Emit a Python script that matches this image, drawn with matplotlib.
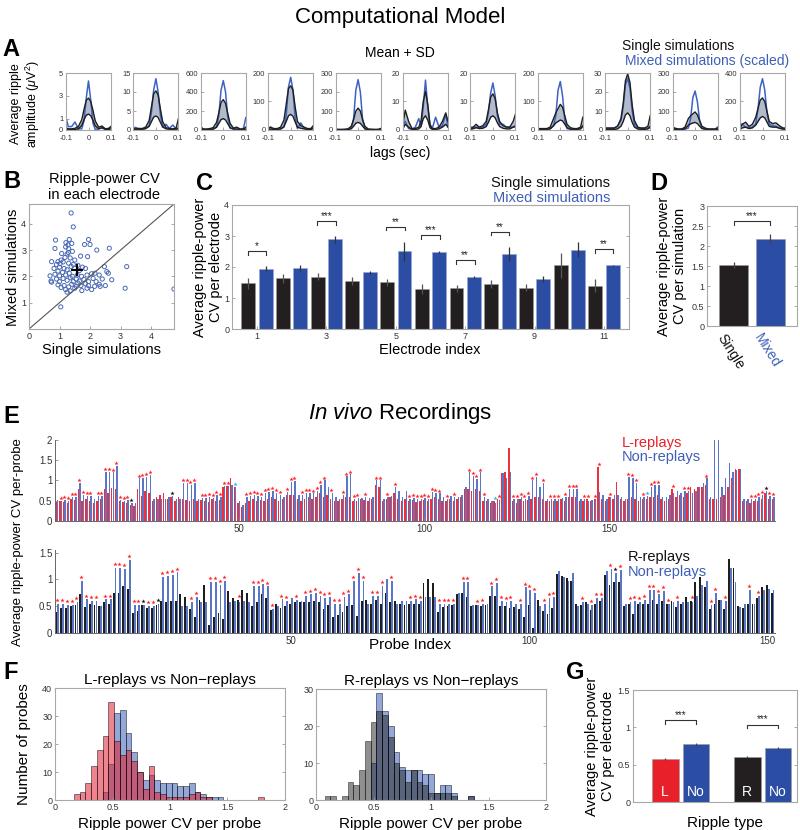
import numpy as np
import matplotlib
matplotlib.use('Agg')
import matplotlib.pyplot as plt

plt.rcParams['font.family'] = ['Liberation Sans', 'DejaVu Sans']
plt.rcParams['mathtext.fontset'] = 'custom'
plt.rcParams['mathtext.it'] = 'Liberation Sans:italic'
plt.rcParams['mathtext.rm'] = 'Liberation Sans'
plt.rcParams['axes.unicode_minus'] = False

# ---------------- data ----------------
# Panel A
lags = [-0.1, -0.09, -0.075, -0.06, -0.045, -0.03, -0.02, -0.01, 0, 0.01, 0.02, 0.03, 0.045, 0.06, 0.075, 0.09, 0.1]
A_blue = [
    [1.1, 0.3, 0.3, 0.7, 0.1, 0.1, 0.8, 2.8, 4.3, 2.6, 0.6, 0.05, 0.1, 0.2, 0.05, 0.1, 0.3],
    [0.5, 0.7, 0.3, 0.2, 0.4, 1.0, 4.5, 10.5, 13.5, 10, 4, 0.8, 1.5, 0.4, 1.3, 0.3, 0.5],
    [40, 10, 5, 5, 10, 30, 150, 420, 520, 400, 130, 20, 10, 5, 5, 20, 130],
    [5, 10, 3, 2, 3, 10, 50, 150, 185, 140, 40, 5, 25, 5, 3, 5, 10],
    [5, 3, 2, 2, 3, 10, 60, 210, 265, 200, 55, 5, 3, 2, 2, 3, 5],
    [1.5, 3.0, 0.5, 0.3, 1.0, 4.0, 1.5, 8, 17.5, 8, 1.5, 0.5, 4.5, 1.0, 1.5, 5.5, 1],
    [1, 1, 1, 0.8, 1, 2, 6, 13, 16.5, 12, 5, 2, 2, 1, 1, 1, 1],
    [5, 3, 3, 3, 5, 15, 50, 140, 170, 120, 35, 5, 3, 3, 3, 5, 10],
    [1, 1, 1, 1, 2, 5, 12, 24, 27, 22, 10, 3, 1, 1, 1, 1, 1],
    [10, 5, 5, 5, 5, 10, 60, 170, 205, 150, 50, 10, 5, 5, 5, 5, 15],
    [45, 40, 20, 15, 20, 40, 150, 300, 360, 280, 120, 40, 30, 25, 15, 10, 15],
]
A_upper = [
    [0.2, 0.1, 0.1, 0.15, 0.3, 0.9, 1.8, 2.6, 2.8, 2.5, 1.7, 0.8, 0.25, 0.35, 0.1, 0.15, 0.3],
    [0.3, 0.3, 0.4, 0.4, 0.8, 2.5, 6, 9.5, 10.3, 9.2, 5.5, 2.2, 0.6, 0.4, 0.3, 0.5, 3.0],
    [20, 10, 10, 15, 25, 80, 180, 290, 320, 280, 170, 70, 20, 30, 10, 10, 30],
    [5, 10, 5, 5, 10, 35, 90, 145, 155, 140, 80, 30, 15, 10, 5, 5, 15],
    [3, 3, 3, 4, 6, 20, 55, 100, 115, 100, 55, 20, 5, 4, 3, 3, 8],
    [2, 7, 3, 0.5, 0.5, 1, 3, 10, 13.5, 9, 2, 0.5, 0.5, 1, 3, 6, 3],
    [0.5, 0.8, 2, 1, 1.5, 3, 7, 11.5, 12.7, 11, 6, 3, 1.5, 1, 1, 3, 5.5],
    [5, 5, 5, 5, 10, 40, 60, 75, 90, 80, 50, 20, 8, 5, 5, 10, 45],
    [1, 1, 1, 1, 2, 6, 14, 26, 29.5, 25, 13, 5, 1.5, 1, 1, 2, 7.5],
    [15, 10, 5, 5, 15, 60, 75, 85, 95, 80, 50, 20, 10, 5, 5, 5, 10],
    [10, 40, 55, 25, 40, 90, 150, 210, 225, 200, 130, 60, 45, 50, 30, 15, 10],
]
A_mean = [
    [0.1, 0.05, 0.05, 0.05, 0.1, 0.4, 0.9, 1.3, 1.4, 1.25, 0.85, 0.35, 0.1, 0.2, 0.05, 0.05, 0.1],
    [0.2, 0.2, 0.2, 0.2, 0.4, 1.0, 2.2, 3.4, 3.7, 3.3, 2.0, 0.8, 0.3, 0.2, 0.2, 0.2, 0.4],
    [10, 5, 5, 5, 10, 30, 70, 110, 120, 105, 65, 25, 10, 10, 5, 5, 10],
    [2, 3, 2, 2, 4, 12, 30, 50, 55, 48, 28, 10, 6, 4, 2, 2, 5],
    [1, 1, 1, 1, 2, 7, 20, 36, 40, 35, 20, 7, 2, 1, 1, 1, 3],
    [0.5, 2, 1, 0.2, 0.2, 0.4, 1.2, 4, 5, 3.5, 0.8, 0.2, 0.2, 0.4, 1, 2, 1],
    [0.3, 0.4, 0.8, 0.5, 0.6, 1.2, 2.7, 4.5, 5, 4.3, 2.5, 1.2, 0.6, 0.4, 0.4, 1, 1.5],
    [2, 2, 2, 2, 4, 15, 25, 30, 35, 32, 20, 8, 3, 2, 2, 4, 15],
    [0.3, 0.3, 0.3, 0.3, 0.6, 2, 4.5, 8, 9, 7.5, 4, 1.5, 0.5, 0.3, 0.3, 0.6, 2],
    [5, 4, 2, 2, 6, 25, 32, 37, 40, 34, 20, 8, 4, 2, 2, 2, 4],
    [5, 15, 20, 10, 15, 35, 60, 85, 95, 85, 55, 25, 20, 20, 12, 6, 5],
]
A_yticks = [[0, 1, 3, 5], [0, 5, 10, 15], [0, 200, 400, 600], [0, 100, 200], [0, 100, 200, 300],
            [0, 10, 20], [0, 10, 20], [0, 100, 200], [0, 10, 20, 30], [0, 100, 200, 300], [0, 200, 400]]

# Panel B
B_single = [1.38, 1.45, 0.87, 1.32, 1.21, 1.28, 1.20, 1.95, 1.82, 2.00, 1.40, 1.30, 0.85, 1.07, 1.29, 1.18, 1.35,
            1.69, 1.92, 2.22, 2.63, 1.25, 1.42, 1.05, 1.50,
            0.74, 0.95, 0.90, 1.02, 1.12, 1.30, 1.45, 1.60, 1.75, 1.00, 1.15, 1.25, 1.38, 0.82, 0.95, 1.10, 1.20,
            1.32, 1.50, 1.65, 1.85, 2.47, 3.20, 2.55, 2.16, 2.05, 1.90, 0.69, 0.85, 1.00, 1.42, 1.58, 1.72, 2.30, 2.60,
            0.74, 0.72, 0.90, 1.00, 1.12, 1.25, 1.35, 1.45, 1.55, 1.65, 1.80, 1.95, 2.10, 2.20, 2.40, 2.71, 2.30,
            2.15, 2.33, 1.95, 1.85, 1.70, 1.55, 1.40, 1.30, 1.15, 1.05, 0.95, 1.20, 1.35, 1.50, 1.73, 1.90, 2.05,
            1.25, 1.60, 3.15, 4.75, 1.04, 2.50]
B_mixed = [4.41, 3.88, 3.38, 3.40, 3.28, 3.20, 3.12, 3.40, 3.21, 3.21, 3.25, 3.05, 3.06, 2.87, 2.91, 2.72, 2.70,
           2.77, 2.75, 3.00, 3.07, 2.85, 2.95, 2.62, 2.62,
           2.56, 2.56, 2.45, 2.48, 2.55, 2.50, 2.45, 2.42, 2.35, 2.35, 2.30, 2.25, 2.38, 2.30, 2.20, 2.15, 2.05,
           2.12, 2.30, 2.22, 2.30, 2.37, 2.37, 2.18, 2.12, 2.10, 2.05, 2.02, 2.08, 2.02, 2.00, 2.05, 2.00, 2.05, 2.12,
           1.78, 1.82, 1.90, 1.80, 1.92, 1.85, 1.95, 1.80, 1.90, 1.82, 1.88, 1.80, 1.92, 1.80, 1.90, 1.87, 1.70,
           1.62, 1.62, 1.65, 1.72, 1.65, 1.62, 1.70, 1.60, 1.65, 1.58, 1.68, 1.50, 1.45, 1.55, 1.46, 1.55, 1.50,
           1.40, 1.75, 1.55, 1.52, 0.84, 1.65]

# Panel C
C_electrodes = [1, 2, 3, 4, 5, 6, 7, 8, 9, 10, 11]
C_single = [1.47, 1.63, 1.69, 1.55, 1.50, 1.29, 1.31, 1.44, 1.33, 2.05, 1.40]
C_single_err = [0.17, 0.15, 0.12, 0.14, 0.10, 0.15, 0.12, 0.13, 0.12, 0.40, 0.20]
C_mixed = [1.94, 1.96, 2.89, 1.83, 2.50, 2.49, 1.67, 2.41, 1.62, 2.56, 2.05]
C_mixed_err = [0.08, 0.09, 0.10, 0.04, 0.30, 0.03, 0.04, 0.23, 0.10, 0.24, 0.03]
C_sig = ['*', '', '***', '', '**', '***', '**', '**', '', '', '**']

# Panel D
D_labels = ['Single', 'Mixed']
D_values = [1.52, 2.18]
D_err = [0.07, 0.12]

# Panel E
L_red = [0.48, 0.50, 0.47, 0.45, 0.55, 0.52, 0.80, 0.50, 0.55, 0.50,
         0.45, 0.50, 0.55, 0.80, 0.70, 0.82, 0.80, 0.50, 0.48, 0.45,
         0.40, 0.38, 0.78, 0.62, 0.75, 0.70, 0.50, 0.60, 0.65, 0.70,
         0.55, 0.60, 0.50, 0.60, 0.55, 0.52, 0.50, 0.55, 0.50, 0.52,
         0.50, 0.48, 0.55, 0.50, 0.52, 0.85, 0.86, 1.05, 0.85, 0.45,
         0.35, 0.45, 0.50, 0.55, 0.50, 0.52, 0.50, 0.55, 0.60, 0.55,
         0.50, 0.55, 0.65, 0.65, 0.65, 0.55, 0.50, 0.55, 0.60, 0.55,
         0.60, 0.70, 0.60, 0.65, 0.55, 0.50, 0.50, 0.55, 0.60, 0.60,
         0.50, 0.50, 0.55, 0.52, 0.50, 0.55, 0.88, 0.85, 0.50, 0.55,
         0.60, 0.70, 0.55, 0.50, 0.55, 0.50, 0.52, 0.48, 0.50, 0.53,
         0.50, 0.55, 0.60, 0.55, 0.50, 0.50, 0.55, 0.50, 0.55, 0.60,
         0.80, 0.80, 0.75, 0.80, 0.75, 0.50, 0.50, 0.45, 0.50, 0.55,
         1.18, 1.20, 1.80, 0.50, 0.45, 0.55, 0.50, 0.52, 0.55, 0.60,
         0.60, 0.55, 0.50, 0.50, 0.50, 0.50, 0.55, 0.50, 0.60, 0.60,
         0.60, 0.50, 0.50, 0.55, 0.50, 0.55, 1.34, 0.55, 0.50, 0.60,
         0.55, 0.97, 0.55, 0.50, 0.55, 0.60, 0.55, 0.50, 0.55, 0.55,
         0.60, 0.60, 0.65, 0.55, 0.50, 0.55, 0.80, 0.60, 0.65, 0.60,
         0.70, 0.85, 0.80, 0.85, 0.85, 0.90, 0.55, 0.55, 0.55, 0.60,
         0.65, 0.85, 1.05, 1.28, 1.28, 0.50, 0.50, 0.45, 0.50, 0.50,
         0.55, 0.70, 0.55, 0.55]
L_non = [0.52, 0.50, 0.52, 0.50, 0.60, 0.60, 0.95, 0.65, 0.62, 0.62,
         0.55, 0.62, 0.62, 1.22, 1.22, 1.20, 1.37, 0.52, 0.50, 0.52,
         0.45, 0.45, 1.05, 1.07, 1.08, 1.13, 0.55, 0.55, 0.55, 0.55,
         0.60, 0.62, 0.55, 0.55, 0.95, 0.93, 0.90, 0.95, 0.55, 0.57,
         0.58, 0.60, 0.58, 0.65, 0.60, 0.86, 0.87, 0.90, 0.85, 0.50,
         0.40, 0.60, 0.62, 0.65, 0.62, 0.60, 0.70, 0.72, 0.75, 0.70,
         0.65, 0.60, 0.72, 0.97, 0.98, 0.65, 0.65, 0.70, 0.70, 0.68,
         0.75, 0.90, 1.00, 0.85, 0.70, 0.60, 0.55, 0.65, 1.10, 1.15,
         0.55, 0.58, 0.58, 0.60, 0.58, 0.60, 1.00, 1.00, 0.55, 0.60,
         0.62, 0.85, 0.75, 0.60, 0.75, 0.55, 0.57, 0.55, 0.54, 0.56,
         0.55, 0.72, 0.70, 0.68, 0.60, 0.55, 0.62, 0.60, 0.60, 0.65,
         0.85, 1.20, 1.12, 1.03, 1.20, 0.60, 0.55, 0.50, 0.45, 0.52,
         1.18, 1.05, 1.20, 0.55, 0.55, 0.60, 0.55, 0.62, 1.00, 1.08,
         0.85, 0.95, 0.55, 0.55, 0.55, 0.55, 0.58, 0.60, 0.80, 0.80,
         0.80, 0.55, 0.55, 0.50, 0.52, 0.55, 0.72, 0.65, 0.55, 0.60,
         0.65, 0.65, 0.60, 0.55, 1.08, 1.06, 0.95, 0.60, 0.60, 0.62,
         0.85, 0.90, 0.90, 0.60, 0.60, 0.65, 0.70, 0.75, 0.70, 0.75,
         0.75, 0.70, 0.75, 0.85, 0.95, 1.05, 0.60, 2.00, 2.00, 0.85,
         1.05, 1.42, 1.20, 1.25, 1.28, 0.55, 0.55, 0.55, 0.55, 0.60,
         0.65, 0.75, 0.62, 0.60]
L_star_red = [2, 3, 4, 5, 6, 7, 8, 9, 10, 12, 13, 14, 15, 16, 17, 18, 19, 20, 23, 24, 25, 26, 35, 36, 37, 38,
              40, 41, 42, 43, 44, 45, 46, 47, 52, 53, 54, 55, 56, 57, 58, 59, 60, 61, 63, 64, 65, 67, 68, 69, 70,
              71, 72, 73, 75, 78, 79, 80, 81, 82, 84, 87, 88, 90, 92, 96, 97, 98, 99, 100, 101, 102, 103, 104,
              106, 108, 112, 113, 114, 115, 116, 120, 124, 125, 126, 127, 128, 129, 130, 132, 134, 135, 136, 138,
              139, 140, 141, 143, 144, 146, 147, 150, 155, 156, 157, 159, 161, 162, 163, 167, 170, 171, 176, 188,
              189, 190, 191, 193, 194]
L_star_black = [21, 32, 192]
L_star_cyan = [49, 119, 160]

R_black = [0.40, 0.47, 0.47, 0.50, 0.53, 0.72, 0.48, 0.55, 0.53, 0.50,
           0.58, 0.55, 0.75, 0.75, 0.87, 0.82, 0.38, 0.42, 0.52, 0.47,
           0.47, 0.53, 0.60, 0.58, 0.60, 0.60, 0.73, 0.68, 0.45, 0.30,
           0.62, 0.90, 0.15, 0.30, 0.38, 0.27, 0.78, 0.65, 0.62, 0.80,
           0.75, 0.50, 0.58, 0.72, 0.65, 0.43, 0.55, 0.47, 0.50, 0.55,
           0.58, 0.58, 0.58, 0.58, 0.60, 0.58, 0.45, 0.52, 0.30, 0.33,
           0.40, 0.50, 0.52, 0.32, 0.60, 0.62, 0.55, 0.62, 0.55, 0.75,
           0.58, 0.60, 0.55, 0.53, 0.55, 0.55, 0.55, 0.94, 1.00, 0.94,
           0.40, 0.48, 0.50, 0.52, 0.72, 0.75, 0.68, 0.50, 0.52, 0.50,
           0.52, 0.70, 0.70, 0.50, 0.50, 0.47, 0.48, 0.45, 0.30, 0.52,
           0.10, 0.62, 0.42, 0.35, 0.47, 1.10, 1.07, 1.02, 0.98, 0.55,
           0.52, 0.58, 0.43, 0.55, 0.60, 1.08, 0.90, 0.95, 0.95, 0.50,
           0.55, 0.35, 0.55, 0.55, 0.55, 0.62, 0.55, 0.60, 0.55, 0.60,
           0.48, 0.55, 0.68, 0.60, 0.95, 1.05, 0.85, 0.45, 0.55, 0.62,
           0.45, 1.38, 1.22, 0.50, 0.47, 0.55, 0.55, 0.65, 0.85, 0.90, 0.75]
R_non = [0.55, 0.55, 0.53, 0.52, 0.58, 0.97, 0.63, 0.60, 0.60, 0.50,
         0.63, 0.63, 1.22, 1.22, 1.20, 1.37, 0.52, 0.52, 0.53, 0.50,
         0.50, 0.55, 1.05, 1.07, 1.08, 1.13, 0.50, 0.50, 0.58, 0.68,
         0.58, 0.58, 0.95, 0.95, 0.90, 0.97, 0.57, 0.60, 0.57, 0.60,
         0.58, 0.88, 0.88, 0.92, 0.87, 0.45, 0.50, 0.63, 0.60, 0.65,
         0.62, 0.60, 0.70, 0.72, 0.75, 0.70, 0.65, 0.68, 0.55, 0.55,
         0.68, 0.72, 0.97, 1.12, 0.98, 0.55, 0.70, 0.70, 0.88, 1.00,
         0.97, 0.55, 0.60, 0.60, 0.60, 0.63, 0.60, 0.68, 0.68, 0.68,
         0.55, 0.55, 0.55, 0.55, 0.75, 0.95, 0.95, 0.53, 0.52, 0.55,
         0.55, 0.87, 0.93, 0.60, 0.58, 0.60, 0.55, 0.55, 0.85, 0.80,
         0.75, 0.50, 0.55, 0.65, 0.67, 1.15, 1.05, 0.98, 1.12, 0.50,
         0.58, 0.55, 0.53, 0.65, 0.65, 1.15, 1.20, 1.12, 1.18, 0.55,
         0.58, 0.60, 0.58, 0.62, 0.80, 0.80, 0.72, 0.78, 0.55, 0.58,
         0.60, 0.58, 0.57, 0.58, 0.70, 0.90, 0.98, 0.52, 0.75, 0.62,
         0.60, 1.22, 0.95, 0.48, 0.55, 0.80, 0.55, 0.70, 0.80, 0.82, 0.80]
R_star_red = [1, 2, 3, 4, 5, 6, 7, 8, 9, 11, 12, 13, 14, 15, 16, 17, 18, 20, 21, 23, 24, 25, 26, 29, 30, 33, 34,
              35, 36, 39, 42, 43, 44, 45, 46, 48, 49, 51, 53, 54, 55, 56, 57, 58, 59, 60, 61, 62, 63, 64, 65, 67,
              68, 69, 71, 75, 76, 77, 81, 82, 83, 84, 86, 87, 89, 90, 92, 93, 94, 95, 96, 98, 99, 100, 101, 103,
              104, 105, 111, 113, 114, 115, 117, 119, 121, 122, 123, 124, 125, 126, 127, 128, 129, 131, 134, 138,
              139, 141, 146, 148]
R_star_black = [19, 22, 118]

# Panel F
F_centers = [0.19, 0.24, 0.29, 0.34, 0.39, 0.44, 0.49, 0.54, 0.59, 0.64, 0.69, 0.74, 0.79, 0.84, 0.89, 0.94,
             0.99, 1.04, 1.09, 1.14, 1.19, 1.24, 1.29, 1.34, 1.39, 1.44, 1.49, 1.54, 1.59, 1.64, 1.69, 1.74, 1.79]
F_L_counts = [2, 3, 6, 12, 18, 23, 35, 21, 16, 18, 14, 10, 4, 12, 3, 2, 1, 1, 1, 1, 2, 3, 1, 1, 0, 0, 0, 0, 0,
              0, 0, 0, 1]
F_Lnon_counts = [0, 0, 0, 0, 0, 3, 13, 31, 32, 24, 17, 10, 7, 9, 7, 6, 6, 6, 5, 5, 6, 3, 2, 1, 1, 1, 0, 0, 0,
                 0, 0, 0, 0]
F2_centers = [0.10, 0.15, 0.20, 0.25, 0.30, 0.35, 0.40, 0.45, 0.50, 0.55, 0.60, 0.65, 0.70, 0.75, 0.80, 0.85,
              0.90, 0.95, 1.00, 1.05, 1.10, 1.15, 1.20, 1.25, 1.30, 1.35]
F_R_counts = [1, 1, 0, 1, 5, 4, 8, 16, 21, 24, 23, 17, 10, 8, 5, 8, 5, 4, 2, 2, 2, 2, 1, 0, 0, 1]
F_Rnon_counts = [0, 0, 0, 0, 0, 0, 0, 0, 10, 29, 24, 20, 13, 9, 8, 8, 8, 7, 7, 2, 4, 4, 2, 0, 0, 1]

# Panel G
G_labels = ['L', 'No', 'R', 'No']
G_values = [0.58, 0.775, 0.60, 0.725]
G_err = [0.012, 0.02, 0.01, 0.012]

# ---------------- style ----------------
BLUE = '#2B4DA3'
BLACK = '#231F20'
RED = '#E8202A'
E_RED = '#EE2F3C'
E_BLUE = '#5A76C4'
E_BLACK = '#1E1E1E'
W, H = 800, 830
fig = plt.figure(figsize=(8, 8.3), dpi=100)


def add_ax(x0, y0, x1, y1):
    return fig.add_axes([x0 / W, 1 - y1 / H, (x1 - x0) / W, (y1 - y0) / H])


def ftext(x, y, s, **kw):
    fig.text(x / W, 1 - y / H, s, **kw)


def box_style(ax, fs=6.5, mirror=True):
    for s in ax.spines.values():
        s.set_color('#A8A8A8')
        s.set_linewidth(0.8)
    ax.tick_params(direction='in', length=2, width=0.6, color='#999999', labelcolor='#333333',
                   labelsize=fs, top=False, right=mirror, pad=2)


def bracket(ax, x1, x2, y, h, label, fs=7):
    ax.plot([x1, x1, x2, x2], [y - h, y, y, y - h], color='#333333', lw=0.8)
    ax.text((x1 + x2) / 2, y, label, ha='center', va='bottom', fontsize=fs, color='#222222')


# ---------------- titles / panel letters ----------------
ftext(400, 18, 'Computational Model', ha='center', va='center', fontsize=16)
ftext(400, 413, r'$\it{In\ vivo}$ Recordings', ha='center', va='center', fontsize=16)
for lab, x, y in [('A', 2, 50), ('B', 3, 181), ('C', 196, 183), ('D', 650, 183), ('E', 3, 416),
                  ('F', 3, 672), ('G', 566, 672)]:
    ftext(x, y, lab, ha='left', va='center', fontsize=17, fontweight='bold')

# ---------------- Panel A ----------------
for i in range(11):
    x0 = 66 + 67.4 * i
    ax = add_ax(x0, 73, x0 + 45, 130)
    ax.fill_between(lags, A_mean[i], A_upper[i], color='#B3BAC9', lw=0)
    ax.plot(lags, A_blue[i], color='#3D62C4', lw=1.1)
    ax.plot(lags, A_upper[i], color='#1E1E1E', lw=1.0)
    ax.plot(lags, A_mean[i], color='#1E1E1E', lw=1.0)
    ax.set_xlim(-0.1, 0.1)
    ax.set_ylim(0, A_yticks[i][-1])
    ax.set_xticks([-0.1, 0, 0.1])
    ax.set_xticklabels(['-0.1', '0', '0.1'])
    ax.set_yticks(A_yticks[i])
    box_style(ax, fs=5.4, mirror=False)
    ax.tick_params(axis='x', pad=3.5)
ftext(400, 53, 'Mean + SD', ha='center', va='center', fontsize=10)
ftext(622, 46, 'Single simulations', ha='left', va='center', fontsize=10, color='#111111')
ftext(625, 61, 'Mixed simulations (scaled)', ha='left', va='center', fontsize=10, color='#3D5FB8')
ftext(26, 104, 'Average ripple\namplitude ($\\mu$V$^2$)', ha='center', va='center', rotation=90,
      fontsize=9, linespacing=1.1)
ftext(400, 153, 'lags (sec)', ha='center', va='center', fontsize=10)

# ---------------- Panel B ----------------
axB = add_ax(29, 204, 174, 329)
axB.plot([0, 4.75], [0, 4.75], color='#555555', lw=0.8)
axB.scatter(B_single, B_mixed, s=9, facecolors='none', edgecolors='#4A69B4', linewidths=0.7)
axB.plot(np.mean(B_single), np.mean(B_mixed), marker='+', ms=9, mew=1.5, color='black', ls='none')
axB.set_xlim(0, 4.75)
axB.set_ylim(0, 4.75)
axB.set_xticks([0, 1, 2, 3, 4])
axB.set_yticks([1, 2, 3, 4])
box_style(axB, fs=6.5)
ftext(104, 187, 'Ripple-power CV\nin each electrode', ha='center', va='center', fontsize=10.5,
      linespacing=1.15)
ftext(13, 267, 'Mixed simulations', ha='center', va='center', rotation=90, fontsize=10.5)
ftext(101, 350, 'Single simulations', ha='center', va='center', fontsize=10.5)

# ---------------- Panel C ----------------
axC = add_ax(232, 205, 629, 329)
xe = np.array(C_electrodes, dtype=float)
axC.bar(xe - 0.25, C_single, width=0.4, color=BLACK, edgecolor='#9a9a9a', linewidth=0.4)
axC.bar(xe + 0.25, C_mixed, width=0.4, color=BLUE, edgecolor='#9AA8D0', linewidth=0.4)
axC.errorbar(xe - 0.25, C_single, yerr=C_single_err, fmt='none', ecolor='#555555', elinewidth=0.9)
axC.errorbar(xe + 0.25, C_mixed, yerr=C_mixed_err, fmt='none', ecolor='#333333', elinewidth=0.9)
for i, s in enumerate(C_sig):
    if s:
        top = max(C_single[i] + C_single_err[i], C_mixed[i] + C_mixed_err[i]) + 0.5
        bracket(axC, xe[i] - 0.27, xe[i] + 0.27, top, 0.12, s)
axC.set_xlim(0.28, 11.72)
axC.set_ylim(0, 4)
axC.set_xticks([1, 3, 5, 7, 9, 11])
axC.set_yticks([0, 1, 2, 3, 4])
box_style(axC, fs=6.5)
ftext(610, 183, 'Single simulations', ha='right', va='center', fontsize=10.5, color='#111111')
ftext(610, 198, 'Mixed simulations', ha='right', va='center', fontsize=10.5, color='#3D5FB8')
ftext(208, 267, 'Average ripple-power\nCV per electrode', ha='center', va='center', rotation=90,
      fontsize=10.5, linespacing=1.1)
ftext(430, 350, 'Electrode index', ha='center', va='center', fontsize=10.5)

# ---------------- Panel D ----------------
axD = add_ax(707, 206, 797, 326)
xd = np.arange(len(D_values))
axD.bar(xd, D_values, width=0.8, color=[BLACK, BLUE], edgecolor='#9a9a9a', linewidth=0.4)
axD.errorbar(xd, D_values, yerr=D_err, fmt='none', ecolor='#444444', elinewidth=0.9)
bracket(axD, 0, 1, max(v + e for v, e in zip(D_values, D_err)) + 0.33, 0.1, '***')
axD.set_xlim(-0.74, 1.74)
axD.set_ylim(0, 3)
axD.set_yticks([0, 0.5, 1, 1.5, 2, 2.5, 3])
axD.set_yticklabels(['0', '0.5', '1', '1.5', '2', '2.5', '3'])
axD.set_xticks(xd - 0.2)
box_style(axD, fs=6.5)
axD.set_xticklabels(D_labels, rotation=-58, ha='left', va='top', rotation_mode='anchor', fontsize=10)
axD.tick_params(axis='x', length=0, pad=4)
axD.get_xticklabels()[0].set_color('#111111')
axD.get_xticklabels()[1].set_color('#3D5FB8')
ftext(672, 266, 'Average ripple-power\nCV per simulation', ha='center', va='center', rotation=90,
      fontsize=10.5, linespacing=1.1)

# ---------------- Panel E ----------------
def e_style(ax):
    for k in ['top', 'right']:
        ax.spines[k].set_visible(False)
    for k in ['left', 'bottom']:
        ax.spines[k].set_color('#666666')
        ax.spines[k].set_linewidth(0.7)
    ax.tick_params(direction='in', length=2, width=0.6, color='#888888', labelcolor='#333333',
                   labelsize=7, pad=2)


def e_stars(ax, idx, a, b, color, top_lim):
    idx = np.array(idx)
    yv = np.minimum(np.maximum(np.array(a)[idx - 1], np.array(b)[idx - 1]), top_lim) + 0.07
    ax.plot(idx, yv, ls='none', marker='*', ms=3.2, color=color, mew=0)


axE1 = add_ax(55, 440, 775, 521)
pL = np.arange(1, len(L_red) + 1)
axE1.bar(pL - 0.2, L_red, width=0.38, color=E_RED, linewidth=0)
axE1.bar(pL + 0.2, L_non, width=0.38, color=E_BLUE, linewidth=0)
e_stars(axE1, L_star_red, L_red, L_non, '#FF2020', 2)
e_stars(axE1, L_star_black, L_red, L_non, '#111111', 2)
e_stars(axE1, L_star_cyan, L_red, L_non, '#22B8F0', 2)
axE1.set_xlim(0.5, len(L_red) + 0.5)
axE1.set_ylim(0, 2)
axE1.set_yticks([0, 0.5, 1, 1.5, 2])
axE1.set_yticklabels(['0', '0.5', '1', '1.5', '2'])
axE1.set_xticks([50, 100, 150])
e_style(axE1)
ftext(622, 443, 'L-replays', ha='left', va='center', fontsize=10.5, color='#E8202A')
ftext(622, 457, 'Non-replays', ha='left', va='center', fontsize=10.5, color='#3D5FB8')

axE2 = add_ax(55, 550, 775, 633)
pR = np.arange(1, len(R_black) + 1)
axE2.bar(pR - 0.2, R_black, width=0.38, color=E_BLACK, linewidth=0)
axE2.bar(pR + 0.2, R_non, width=0.38, color=E_BLUE, linewidth=0)
e_stars(axE2, R_star_red, R_black, R_non, '#FF2020', 1.55)
e_stars(axE2, R_star_black, R_black, R_non, '#111111', 1.55)
axE2.set_xlim(0.5, len(R_black) + 0.5)
axE2.set_ylim(0, 1.55)
axE2.set_yticks([0, 0.5, 1, 1.5])
axE2.set_yticklabels(['0', '0.5', '1', '1.5'])
axE2.set_xticks([50, 100, 150])
e_style(axE2)
ftext(628, 557, 'R-replays', ha='left', va='center', fontsize=10.5, color='#111111')
ftext(628, 572, 'Non-replays', ha='left', va='center', fontsize=10.5, color='#3D5FB8')
ftext(18, 542, 'Average ripple-power CV per-probe', ha='center', va='center', rotation=90, fontsize=9.5)
ftext(410, 645, 'Probe Index', ha='center', va='center', fontsize=11)

# ---------------- Panel F ----------------
def f_style(ax, yt):
    box_style(ax, fs=6.5)
    ax.set_xlim(0, 2)
    ax.set_xticks([0, 0.5, 1, 1.5, 2])
    ax.set_xticklabels(['0', '0.5', '1', '1.5', '2'])
    ax.set_yticks(yt)
    ax.set_ylim(0, yt[-1])


axF1 = add_ax(55, 688, 285, 800)
axF1.bar(F_centers, F_Lnon_counts, width=0.05, color='#3A5FB8', alpha=0.55, edgecolor=(0, 0, 0, 0.7),
         linewidth=0.6)
axF1.bar(F_centers, F_L_counts, width=0.05, color='#E02030', alpha=0.55, edgecolor=(0, 0, 0, 0.7),
         linewidth=0.6)
f_style(axF1, [0, 10, 20, 30, 40])
axF1.set_title('L-replays vs Non\u2212replays', fontsize=11, pad=3)
axF1.set_xlabel('Ripple power CV per probe', fontsize=11, labelpad=4)
ftext(24, 744, 'Number of probes', ha='center', va='center', rotation=90, fontsize=11)

axF2 = add_ax(316, 689, 546, 800)
axF2.bar(F2_centers, F_Rnon_counts, width=0.05, color='#3A5FB8', alpha=0.55, edgecolor=(0, 0, 0, 0.7),
         linewidth=0.6)
axF2.bar(F2_centers, F_R_counts, width=0.05, color='#202020', alpha=0.5, edgecolor=(0, 0, 0, 0.7),
         linewidth=0.6)
f_style(axF2, [0, 10, 20, 30])
axF2.set_title('R-replays vs Non\u2212replays', fontsize=11, pad=3)
axF2.set_xlabel('Ripple power CV per probe', fontsize=11, labelpad=4)

# ---------------- Panel G ----------------
axG = add_ax(633, 690, 797, 802)
xg = np.array([1 - 0.187, 1 + 0.187, 2 - 0.187, 2 + 0.187])
axG.bar(xg, G_values, width=0.325, color=[RED, BLUE, BLACK, BLUE], edgecolor='#9a9a9a', linewidth=0.4)
axG.errorbar(xg, G_values, yerr=G_err, fmt='none', ecolor='#444444', elinewidth=0.9)
for i, lab in enumerate(G_labels):
    axG.text(xg[i], 0.13, lab, ha='center', va='center', color='white', fontsize=10)
for g in range(2):
    top = max(G_values[2 * g] + G_err[2 * g], G_values[2 * g + 1] + G_err[2 * g + 1]) + 0.3
    bracket(axG, xg[2 * g], xg[2 * g + 1], top, 0.05, '***')
axG.set_xlim(0.42, 2.42)
axG.set_ylim(0, 1.5)
axG.set_xticks([])
axG.set_yticks([0, 0.5, 1, 1.5])
axG.set_yticklabels(['0', '0.5', '1', '1.5'])
box_style(axG, fs=6.5)
ftext(600, 746, 'Average ripple-power\nCV per electrode', ha='center', va='center', rotation=90,
      fontsize=10.5, linespacing=1.1)
ftext(725, 823, 'Ripple type', ha='center', va='center', fontsize=11)

fig.savefig('out.png', dpi=100)
